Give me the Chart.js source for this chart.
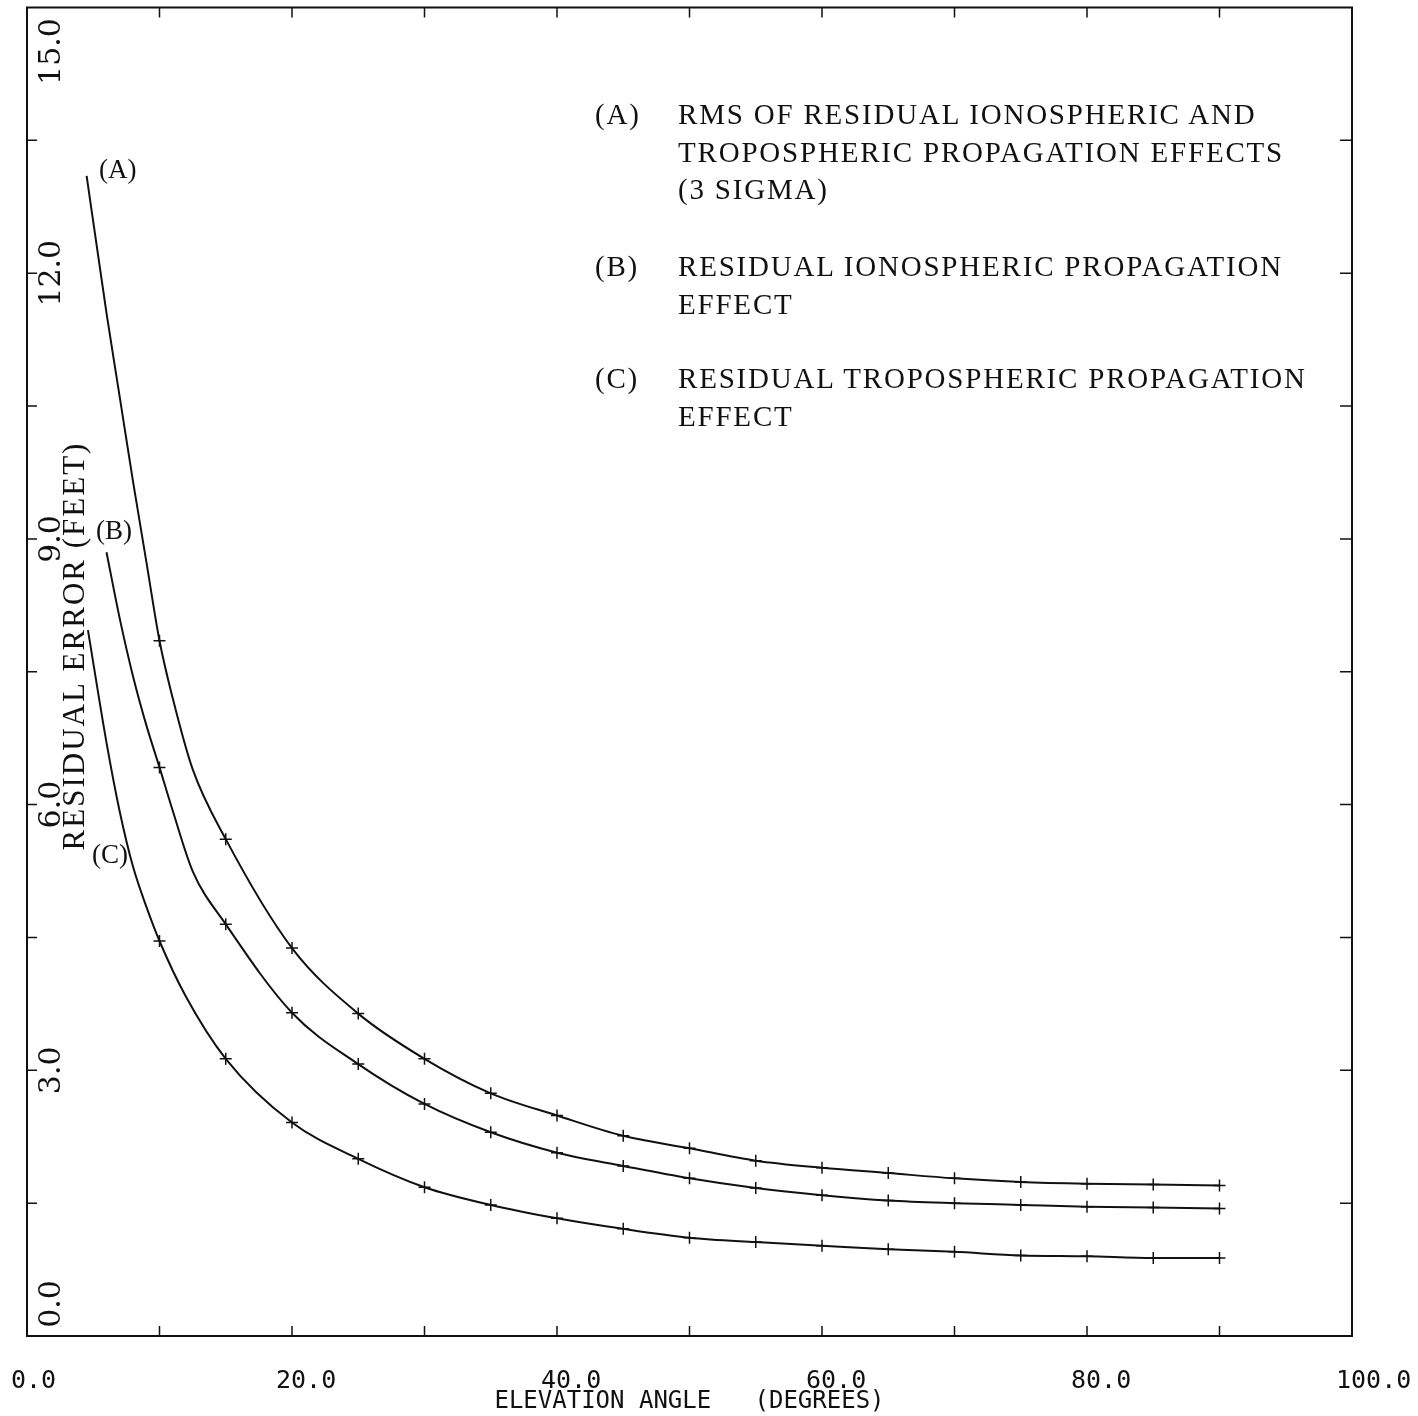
<!DOCTYPE html>
<html>
<head>
<meta charset="utf-8">
<script src="https://cdn.jsdelivr.net/npm/chart.js@4.4.1/dist/chart.umd.min.js"></script>
<style>
  html, body { margin: 0; padding: 0; background: #fff; }
  #wrap { position: relative; width: 1418px; height: 1416px; }
  canvas { display: block; }
  .note { position: absolute; font-family: "Liberation Serif", serif; font-size: 29px; color: #111;
          line-height: 37.5px; white-space: nowrap; letter-spacing: 1.8px; }
  .tag { position: absolute; font-family: "Liberation Serif", serif; font-size: 27px; color: #111; }
</style>
</head>
<body>
<div id="wrap">
  <canvas id="residualChart" width="1418" height="1416"></canvas>
  <div class="note" style="left:595px; top:96px">(A)</div>
  <div class="note" style="left:678px; top:96px">RMS OF RESIDUAL IONOSPHERIC AND<br>TROPOSPHERIC PROPAGATION EFFECTS<br>(3 SIGMA)</div>
  <div class="note" style="left:595px; top:248px">(B)</div>
  <div class="note" style="left:678px; top:248px">RESIDUAL IONOSPHERIC PROPAGATION<br>EFFECT</div>
  <div class="note" style="left:595px; top:360px">(C)</div>
  <div class="note" style="left:678px; top:360px">RESIDUAL TROPOSPHERIC PROPAGATION<br>EFFECT</div>
  <div class="tag" style="left:99px; top:154px">(A)</div>
  <div class="tag" style="left:96px; top:515px">(B)</div>
  <div class="tag" style="left:92px; top:839px">(C)</div>
</div>
<script>
// curve A: rms of ionospheric + tropospheric (3 sigma)
const anglesA = [4.5, 6, 7, 8, 9, 10, 11, 12.5, 15, 20, 25, 30, 35, 40, 45, 50, 55, 60, 65, 70, 75, 80, 85, 90];
const valuesA = [13.1, 11.55, 10.6, 9.65, 8.75, 7.85, 7.2, 6.4, 5.61, 4.38, 3.64, 3.13, 2.74, 2.49, 2.26, 2.12, 1.98, 1.9, 1.84, 1.78, 1.74, 1.72, 1.71, 1.7];

// curve B: residual ionospheric
const anglesB = [6, 7, 8, 9, 10, 11, 12.5, 15, 20, 25, 30, 35, 40, 45, 50, 55, 60, 65, 70, 75, 80, 85, 90];
const valuesB = [8.85, 8.1, 7.45, 6.9, 6.42, 5.93, 5.25, 4.65, 3.65, 3.07, 2.62, 2.3, 2.07, 1.92, 1.78, 1.67, 1.59, 1.53, 1.5, 1.48, 1.46, 1.45, 1.44];

// curve C: residual tropospheric
const anglesC = [4.6, 6, 7, 8, 9, 10, 12, 15, 20, 25, 30, 35, 40, 45, 50, 55, 60, 65, 70, 75, 80, 85, 90];
const valuesC = [7.97, 6.7, 5.92, 5.3, 4.85, 4.46, 3.83, 3.13, 2.41, 2.0, 1.68, 1.48, 1.33, 1.21, 1.11, 1.06, 1.02, 0.98, 0.95, 0.91, 0.9, 0.88, 0.88];

const xTickLabels = ["0.0", "20.0", "40.0", "60.0", "80.0", "100.0"];
const yTickValues = [0, 3, 6, 9, 12, 15];
const yTickLabels = ["0.0", "3.0", "6.0", "9.0", "12.0", "15.0"];

function points(xs, ys) {
  return xs.map((x, i) => ({ x: x, y: ys[i] }));
}

function curve(label, xs, ys) {
  return {
    label: label,
    data: points(xs, ys),
    borderColor: "#111",
    borderWidth: 2,
    pointStyle: "cross",
    pointBorderColor: "#111",
    pointBorderWidth: 1.5,
    pointRadius: ctx => (ctx.raw && ctx.raw.x >= 10 && ctx.raw.x % 5 === 0) ? 6 : 0,
    cubicInterpolationMode: "monotone",
    fill: false
  };
}

// frame, inward ticks and the y labels that sit inside the plot
const framePlugin = {
  id: "frame",
  afterDraw(chart) {
    const { ctx, chartArea: a, scales: { x, y } } = chart;
    ctx.save();
    ctx.strokeStyle = "#111";
    ctx.lineWidth = 2;
    ctx.strokeRect(a.left, a.top, a.right - a.left, a.bottom - a.top);

    ctx.lineWidth = 1.5;
    ctx.beginPath();
    x.ticks.forEach(t => {
      if (t.value <= 0 || t.value >= 100) return;
      const px = x.getPixelForValue(t.value);
      ctx.moveTo(px, a.bottom); ctx.lineTo(px, a.bottom - 10);
      ctx.moveTo(px, a.top); ctx.lineTo(px, a.top + 10);
    });
    y.ticks.forEach(t => {
      if (t.value <= 0 || t.value >= 15) return;
      const py = y.getPixelForValue(t.value);
      ctx.moveTo(a.left, py); ctx.lineTo(a.left + 10, py);
      ctx.moveTo(a.right, py); ctx.lineTo(a.right - 12, py);
    });
    ctx.stroke();

    ctx.fillStyle = "#111";
    ctx.textAlign = "center";
    ctx.textBaseline = "middle";
    ctx.font = '30px "DejaVu Serif"';
    yTickValues.forEach((v, i) => {
      let py = y.getPixelForValue(v);
      py = Math.min(Math.max(py, a.top + 44), a.bottom - 32);
      ctx.save();
      ctx.translate(52, py);
      ctx.rotate(-Math.PI / 2);
      ctx.fillText(yTickLabels[i], 0, 0);
      ctx.restore();
    });

    ctx.font = '31px "Liberation Serif"';
    ctx.letterSpacing = "2px";
    ctx.save();
    ctx.translate(76, 646);
    ctx.rotate(-Math.PI / 2);
    ctx.fillText("RESIDUAL ERROR (FEET)", 0, 0);
    ctx.restore();
    ctx.restore();
  }
};

const config = {
  type: "line",
  data: {
    datasets: [
      curve("A", anglesA, valuesA),
      curve("B", anglesB, valuesB),
      curve("C", anglesC, valuesC)
    ]
  },
  options: {
    responsive: false,
    animation: false,
    layout: { padding: { top: 4, right: 66, bottom: 0, left: 0 } },
    plugins: { legend: { display: false }, tooltip: { enabled: false } },
    scales: {
      x: {
        type: "linear",
        min: 0,
        max: 100,
        grid: { display: false, drawTicks: false },
        border: { display: false },
        ticks: {
          stepSize: 10,
          autoSkip: false,
          maxRotation: 0,
          align: "start",
          labelOffset: -16,
          padding: 30,
          color: "#111",
          font: { family: "DejaVu Sans Mono", size: 25 },
          callback: v => (v % 20 === 0 ? xTickLabels[v / 20] : "")
        },
        title: {
          display: true,
          text: "ELEVATION ANGLE   (DEGREES)",
          color: "#111",
          font: { family: "DejaVu Sans Mono", size: 24 },
          padding: { top: 0, bottom: 0 }
        },
        afterFit: s => { s.height = 80; s.paddingLeft = 0; s.paddingRight = 0; }
      },
      y: {
        min: 0,
        max: 15,
        grid: { display: false, drawTicks: false },
        border: { display: false },
        ticks: { stepSize: 1.5, display: false },
        afterFit: s => { s.width = 27; s.paddingTop = 0; s.paddingBottom = 0; }
      }
    }
  },
  plugins: [framePlugin]
};

window.addEventListener("DOMContentLoaded", () => {
  new Chart(document.getElementById("residualChart"), config);
});
</script>
</body>
</html>
